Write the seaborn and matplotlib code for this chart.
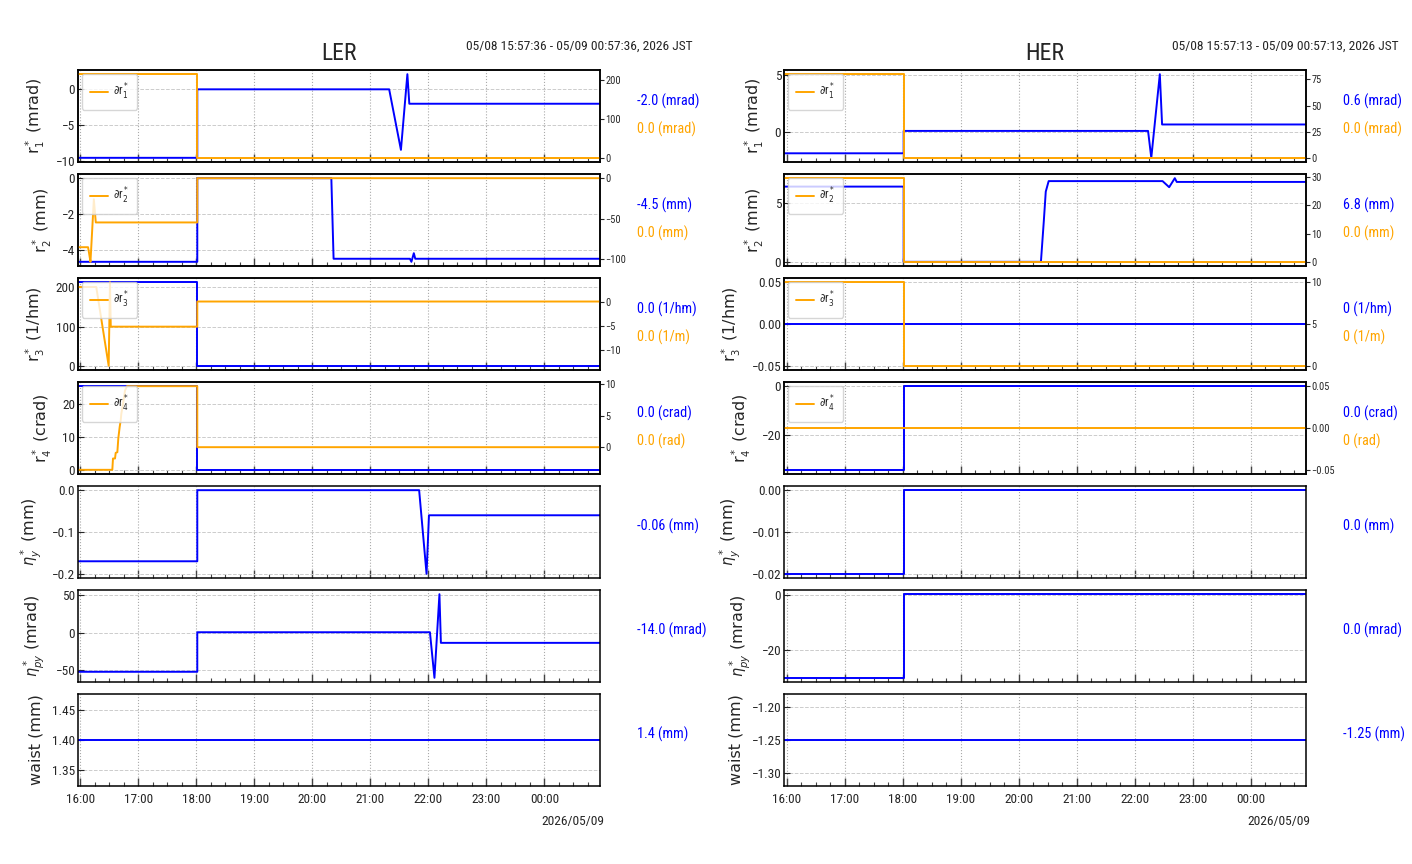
import matplotlib
matplotlib.use("Agg")
import pandas as pd
import matplotlib.pyplot as plt
import matplotlib.dates as mdates
from matplotlib import font_manager as fm
from matplotlib.ticker import MaxNLocator
import seaborn as sns

# ---------------- data ----------------
LER_START, LER_END = "2026-05-08 15:57:36", "2026-05-09 00:57:36"
HER_START, HER_END = "2026-05-08 15:57:13", "2026-05-09 00:57:13"
LER_PERIOD = "05/08 15:57:36 - 05/09 00:57:36, 2026 JST"
HER_PERIOD = "05/08 15:57:13 - 05/09 00:57:13, 2026 JST"
DATE_LABEL = "2026/05/09"
DAY0 = "2026-05-08"

ylabels = [r"$\mathregular{r}_1^*$ (mrad)", r"$\mathregular{r}_2^*$ (mm)",
           r"$\mathregular{r}_3^*$ (1/hm)", r"$\mathregular{r}_4^*$ (crad)",
           r"$\eta_y^*$ (mm)", r"$\eta_{py}^*$ (mrad)", "waist (mm)"]
legend_labels = [r"$\partial\mathregular{r}_1^*$", r"$\partial\mathregular{r}_2^*$",
                 r"$\partial\mathregular{r}_3^*$", r"$\partial\mathregular{r}_4^*$"]

# LER, main (blue) series
ler_r1_t = ["15:57:36", "18:01:00", "18:01:00", "21:19:30", "21:31:40", "21:38:20", "21:40:20", "00:57:36"]
ler_r1_v = [-9.5, -9.5, 0.0, 0.0, -8.4, 2.1, -2.0, -2.0]
ler_r2_t = ["15:57:36", "18:01:00", "18:01:00", "20:19:40", "20:22:00", "21:41:00", "21:42:30",
            "21:45:00", "21:46:30", "00:57:36"]
ler_r2_v = [-4.65, -4.65, 0.0, 0.0, -4.48, -4.48, -4.65, -4.17, -4.48, -4.48]
ler_r3_t = ["15:57:36", "18:01:00", "18:01:00", "00:57:36"]
ler_r3_v = [212, 212, 1, 1]
ler_r4_t = ["15:57:36", "18:01:00", "18:01:00", "00:57:36"]
ler_r4_v = [25.2, 25.2, 0.2, 0.2]
ler_eta_t = ["15:57:36", "18:01:00", "18:01:00", "21:50:30", "21:58:10", "22:00:40", "00:57:36"]
ler_eta_v = [-0.17, -0.17, 0.0, 0.0, -0.2, -0.06, -0.06]
ler_etap_t = ["15:57:36", "18:01:00", "18:01:00", "22:01:40", "22:06:20", "22:11:30", "22:13:00", "00:57:36"]
ler_etap_v = [-52, -52, 0.5, 0.5, -60, 51, -13.6, -13.6]
ler_waist_t = ["15:57:36", "00:57:36"]
ler_waist_v = [1.4, 1.4]

# LER, delta (orange) series
ler_dr1_t = ["15:57:36", "18:01:00", "18:01:00", "00:57:36"]
ler_dr1_v = [216, 216, 0, 0]
ler_dr2_t = ["15:57:36", "16:08:00", "16:09:00", "16:10:30", "16:14:00", "16:16:00", "18:01:00", "18:01:00", "00:57:36"]
ler_dr2_v = [-85, -85, -92, -103, -26, -54.5, -54.5, 0, 0]
ler_dr3_t = ["15:57:36", "16:16:30", "16:29:20", "16:30:40", "16:31:30", "18:01:00", "18:01:00", "00:57:36"]
ler_dr3_v = [3.1, 3.1, -13.2, 4.1, -5.1, -5.1, 0.1, 0.1]
ler_dr4_t = ["15:57:36", "16:33:06", "16:33:48", "16:35:54", "16:36:36", "16:38:18", "16:39:18", "16:40:42",
             "16:41:48", "16:42:24", "16:44:12", "16:46:12", "16:48:18", "18:01:00", "18:01:00", "00:57:36"]
ler_dr4_v = [-3.6, -3.6, -1.8, -1.8, -0.9, -0.8, 1.4, 3.2, 4.3, 5.3, 6.9, 9.0, 9.7, 9.7, 0.0, 0.0]

# HER, main (blue) series
her_r1_t = ["15:57:13", "18:01:00", "18:01:00", "22:13:50", "22:17:10", "22:26:00", "22:28:20", "00:57:13"]
her_r1_v = [-1.9, -1.9, 0.08, 0.08, -2.3, 5.1, 0.65, 0.65]
her_r2_t = ["15:57:13", "18:01:00", "18:01:00", "20:23:00", "20:26:00", "20:28:00", "20:31:00", "22:28:50",
            "22:35:40", "22:41:30", "22:43:30", "00:57:13"]
her_r2_v = [6.43, 6.43, 0.0, 0.0, 3.5, 6.0, 6.9, 6.9, 6.38, 7.15, 6.83, 6.83]
her_r3_t = ["15:57:13", "00:57:13"]
her_r3_v = [0.0, 0.0]
her_r4_t = ["15:57:13", "18:01:00", "18:01:00", "00:57:13"]
her_r4_v = [-34.5, -34.5, 0.0, 0.0]
her_eta_t = ["15:57:13", "18:01:00", "18:01:00", "00:57:13"]
her_eta_v = [-0.02, -0.02, 0.0, 0.0]
her_etap_t = ["15:57:13", "18:01:00", "18:01:00", "00:57:13"]
her_etap_v = [-30, -30, 0.2, 0.2]
her_waist_t = ["15:57:13", "00:57:13"]
her_waist_v = [-1.25, -1.25]

# HER, delta (orange) series
her_dr1_t = ["15:57:13", "18:01:00", "18:01:00", "00:57:13"]
her_dr1_v = [80, 80, 0, 0]
her_dr2_t = ["15:57:13", "18:01:00", "18:01:00", "00:57:13"]
her_dr2_v = [29.7, 29.7, 0, 0]
her_dr3_t = ["15:57:13", "18:01:00", "18:01:00", "00:57:13"]
her_dr3_v = [10, 10, 0, 0]
her_dr4_t = ["15:57:13", "00:57:13"]
her_dr4_v = [0.0, 0.0]

ler_blue_text = ["-2.0 (mrad)", "-4.5 (mm)", "0.0 (1/hm)", "0.0 (crad)", "-0.06 (mm)", "-14.0 (mrad)", "1.4 (mm)"]
ler_orange_text = ["0.0 (mrad)", "0.0 (mm)", "0.0 (1/m)", "0.0 (rad)"]
her_blue_text = ["0.6 (mrad)", "6.8 (mm)", "0 (1/hm)", "0.0 (crad)", "0.0 (mm)", "0.0 (mrad)", "-1.25 (mm)"]
her_orange_text = ["0.0 (mrad)", "0.0 (mm)", "0 (1/m)", "0 (rad)"]

# ---------------- style ----------------
sns.set_style("white")


def pick_narrow():
    order = ["Liberation Sans Narrow", "Roboto Condensed", "Open Sans Condensed",
             "Noto Sans Condensed", "DejaVu Sans Condensed", "DejaVu Sans", "Noto Sans",
             "Roboto", "Open Sans", "Liberation Sans"]
    found = []
    for f in fm.fontManager.ttflist:
        if f.style != "normal" or f.weight not in (400, "normal", "regular", "book"):
            continue
        is_narrow = ("Narrow" in f.name or "Condensed" in f.name
                     or str(f.stretch) in ("condensed", "semi-condensed", "extra-condensed"))
        if not is_narrow:
            continue
        rank = order.index(f.name) if f.name in order else len(order)
        found.append((rank, f.name, str(f.stretch)))
    if found:
        found.sort()
        return found[0][1], found[0][2], True
    return "Liberation Sans", "normal", False


NARROW, STRETCH, IS_NARROW = pick_narrow()
SCALE = 1.0 if IS_NARROW else 0.9
plt.rcParams["font.family"] = [NARROW, "DejaVu Sans"]
plt.rcParams["font.stretch"] = STRETCH
plt.rcParams["axes.edgecolor"] = "black"
plt.rcParams["axes.linewidth"] = 1.1


def to_df(times, vals):
    base = pd.Timestamp(DAY0)
    out = []
    for s in times:
        h, m, sec = map(int, s.split(":"))
        d = base + pd.Timedelta(hours=h, minutes=m, seconds=sec)
        if h < 12:
            d += pd.Timedelta(days=1)
        out.append(d)
    return pd.DataFrame({"time": out, "value": vals})


columns = [
    dict(name="LER", start=LER_START, end=LER_END, period=LER_PERIOD, left=78,
         blue=[(ler_r1_t, ler_r1_v), (ler_r2_t, ler_r2_v), (ler_r3_t, ler_r3_v), (ler_r4_t, ler_r4_v),
               (ler_eta_t, ler_eta_v), (ler_etap_t, ler_etap_v), (ler_waist_t, ler_waist_v)],
         orange=[(ler_dr1_t, ler_dr1_v), (ler_dr2_t, ler_dr2_v), (ler_dr3_t, ler_dr3_v), (ler_dr4_t, ler_dr4_v)],
         btext=ler_blue_text, otext=ler_orange_text),
    dict(name="HER", start=HER_START, end=HER_END, period=HER_PERIOD, left=784,
         blue=[(her_r1_t, her_r1_v), (her_r2_t, her_r2_v), (her_r3_t, her_r3_v), (her_r4_t, her_r4_v),
               (her_eta_t, her_eta_v), (her_etap_t, her_etap_v), (her_waist_t, her_waist_v)],
         orange=[(her_dr1_t, her_dr1_v), (her_dr2_t, her_dr2_v), (her_dr3_t, her_dr3_v), (her_dr4_t, her_dr4_v)],
         btext=her_blue_text, otext=her_orange_text),
]
left_nbins = [3, 3, 3, 3, 3, 3, 4]
STEPS = [1, 2, 2.5, 5, 10]

W, H = 1412, 864
fig = plt.figure(figsize=(W / 100, H / 100), dpi=100)

for col in columns:
    gs = fig.add_gridspec(7, 1, left=col["left"] / W, right=(col["left"] + 522) / W,
                          top=1 - 70 / H, bottom=1 - 786 / H, hspace=12 / 92)
    x0, x1 = pd.Timestamp(col["start"]), pd.Timestamp(col["end"])
    for i in range(7):
        ax = fig.add_subplot(gs[i])
        bt, bv = col["blue"][i]
        sns.lineplot(data=to_df(bt, bv), x="time", y="value", ax=ax, color="blue",
                     linewidth=1.4, estimator=None, sort=False)
        ax.set_xlim(x0, x1)
        ax.set_xlabel("")
        ax.set_ylabel(ylabels[i], fontsize=11.5, family="DejaVu Sans", stretch="normal", labelpad=6)
        ax.yaxis.set_major_locator(MaxNLocator(nbins=left_nbins[i], steps=STEPS))
        ax.xaxis.set_major_locator(mdates.HourLocator())
        ax.xaxis.set_minor_locator(mdates.MinuteLocator(byminute=[15, 30, 45]))
        ax.xaxis.set_major_formatter(mdates.DateFormatter("%H:%M"))
        ax.tick_params(axis="x", which="major", direction="in", length=6, width=1,
                       labelsize=9.5 * SCALE, bottom=True, top=False, labelbottom=(i == 6),
                       color="#444444", pad=5)
        ax.tick_params(axis="x", which="minor", direction="in", length=3, width=0.8,
                       bottom=True, top=False, color="#444444")
        ax.tick_params(axis="y", direction="in", length=4, labelsize=9.5 * SCALE, left=True, pad=2)
        ax.set_axisbelow(True)
        ax.grid(axis="x", which="major", linestyle=":", color="#aaaaaa", linewidth=0.8)
        ax.grid(axis="y", which="major", linestyle="--", color="#cccccc", linewidth=0.7)

        if i < 4:
            ax2 = ax.twinx()
            ot, ov = col["orange"][i]
            sns.lineplot(data=to_df(ot, ov), x="time", y="value", ax=ax2, color="orange",
                         linewidth=1.4, estimator=None, sort=False, label=legend_labels[i])
            ax2.set_ylabel("")
            ax2.set_xlim(x0, x1)
            ax2.yaxis.set_major_locator(MaxNLocator(nbins=4, steps=STEPS))
            ax2.tick_params(axis="y", direction="out", length=3, labelsize=7.5 * SCALE, pad=1)
            ax2.legend(loc="upper left", fontsize=8.5 * SCALE, frameon=True, fancybox=True,
                       edgecolor="#cccccc", borderpad=0.65, handlelength=1.5, handletextpad=0.5,
                       borderaxespad=0.35, framealpha=0.8)
            ax.text(1.071, 0.66, col["btext"][i], transform=ax.transAxes, color="blue",
                    fontsize=10.3 * SCALE, ha="left", va="center")
            ax.text(1.071, 0.36, col["otext"][i], transform=ax.transAxes, color="orange",
                    fontsize=10.3 * SCALE, ha="left", va="center")
        else:
            ax.text(1.071, 0.565, col["btext"][i], transform=ax.transAxes, color="blue",
                    fontsize=10.3 * SCALE, ha="left", va="center")

        if i == 0:
            ax.set_title(col["name"], fontsize=17 * SCALE, pad=7)
            ax.text(1.178, 1.26, col["period"], transform=ax.transAxes, ha="right",
                    va="center", fontsize=9.7 * SCALE)
        if i == 6:
            ax.text(1.008, -0.39, DATE_LABEL, transform=ax.transAxes, ha="right",
                    va="center", fontsize=9.7 * SCALE)

fig.savefig("out.png", dpi=100)
